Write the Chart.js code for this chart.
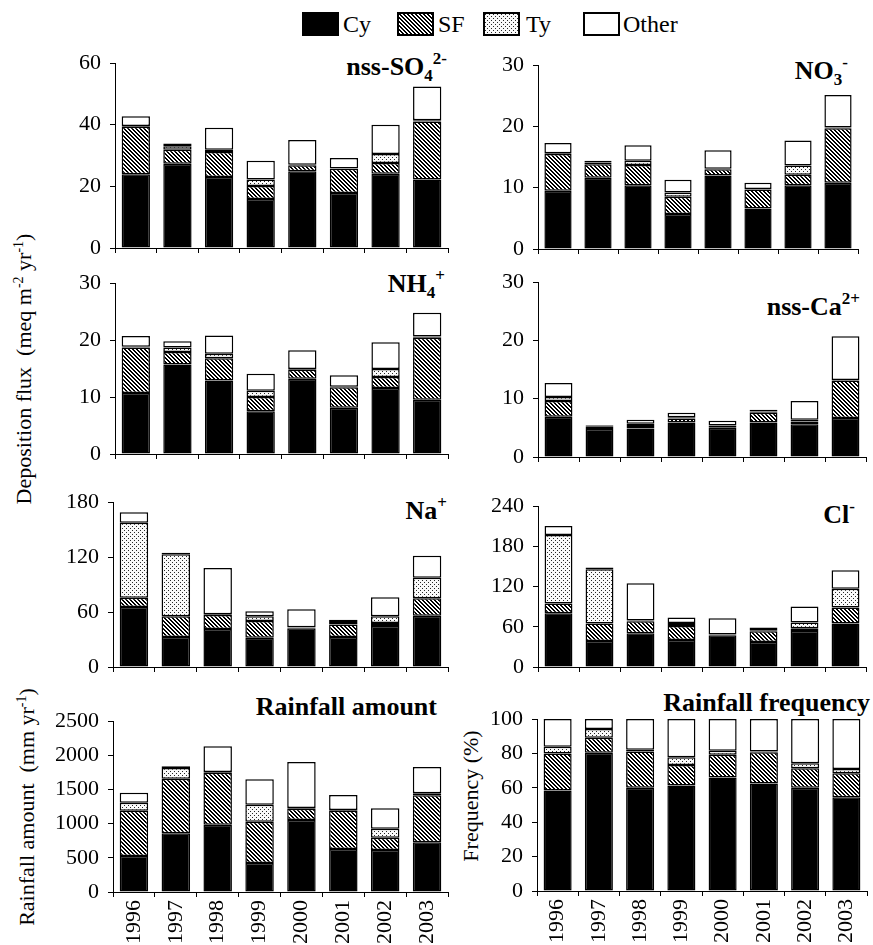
<!DOCTYPE html>
<html>
<head>
<meta charset="utf-8">
<script src="https://cdn.jsdelivr.net/npm/chart.js@4.4.0/dist/chart.umd.min.js"></script>
<style>
body { margin: 0; background: #fff; width: 873px; height: 945px; position: relative; overflow: hidden;
       font-family: 'Liberation Serif', 'Times New Roman', serif; color: #000; }
canvas.panel { position: absolute; }
.ttl { position: absolute; font-weight: bold; font-size: 26px; line-height: 26px; white-space: nowrap; }
.ttl sub, .ttl sup { font-size: 17px; position: relative; vertical-align: baseline; line-height: 0; }
.ttl sub { top: 6px; }
.ttl sup { top: -11px; }
.ytl { position: absolute; font-size: 22px; line-height: 22px; white-space: nowrap;
       transform: translate(-50%, -50%) rotate(-90deg); }
.ytl sup { font-size: 14px; position: relative; vertical-align: baseline; line-height: 0; top: -8px; }
.lg { position: absolute; top: 12px; font-size: 24px; line-height: 24px; white-space: nowrap; }
canvas.sw { position: absolute; top: 12px; }
</style>
</head>
<body>

<div class="lg" style="left:343px">Cy</div>
<div class="lg" style="left:438px">SF</div>
<div class="lg" style="left:526px">Ty</div>
<div class="lg" style="left:623px">Other</div>

<div class="ttl" style="right:426px;top:54px">nss-SO<sub>4</sub><sup>2-</sup></div>
<div class="ttl" style="right:25px;top:58px">NO<sub>3</sub><sup>-</sup></div>
<div class="ttl" style="right:428px;top:271px">NH<sub>4</sub><sup>+</sup></div>
<div class="ttl" style="right:13px;top:294px">nss-Ca<sup>2+</sup></div>
<div class="ttl" style="right:426px;top:498px">Na<sup>+</sup></div>
<div class="ttl" style="right:18px;top:502px">Cl<sup>-</sup></div>
<div class="ttl" style="right:436px;top:694px">Rainfall amount</div>
<div class="ttl" style="right:3px;top:690px">Rainfall frequency</div>

<div class="ytl" style="left:24px;top:369px">Deposition flux&nbsp;&nbsp;(meq m<sup>-2</sup> yr<sup>-1</sup>)</div>
<div class="ytl" style="left:27px;top:807px">Rainfall amount&nbsp;&nbsp;(mm yr<sup>-1</sup>)</div>
<div class="ytl" style="left:471px;top:796px">Frequency (%)</div>

<script>
const FONT = "'Liberation Serif', 'Times New Roman', serif";

// years on the x axis
const years = ['1996', '1997', '1998', '1999', '2000', '2001', '2002', '2003'];
const seriesNames = ['Cy', 'SF', 'Ty', 'Other'];

// nss-SO4 2- (meq m-2 yr-1)
const so4Cy    = [23.9, 27.3, 23.0, 15.9, 24.9, 17.8, 24.1, 22.2];
const so4SF    = [15.4, 4.6, 8.1, 4.2, 1.9, 7.9, 3.5, 18.8];
const so4Ty    = [0.3, 1.1, 0.8, 2.1, 0.2, 0.1, 2.9, 0.4];
const so4Other = [3.1, 0.9, 7.1, 6.1, 8.0, 3.4, 9.5, 11.0];

// NO3-
const no3Cy    = [9.5, 11.6, 10.4, 5.7, 12.0, 6.6, 10.4, 10.8];
const no3SF    = [6.0, 2.2, 3.3, 2.8, 1.0, 3.1, 1.7, 8.9];
const no3Ty    = [0.1, 0.3, 0.7, 0.7, 0.1, 0.1, 1.5, 0.1];
const no3Other = [1.7, 0.3, 2.5, 2.1, 3.0, 1.0, 4.1, 5.3];

// NH4+
const nh4Cy    = [10.7, 15.7, 12.9, 7.5, 13.2, 8.1, 11.6, 9.5];
const nh4SF    = [8.0, 2.2, 3.9, 2.5, 1.6, 3.6, 1.9, 10.9];
const nh4Ty    = [0.1, 0.8, 0.8, 1.1, 0.1, 0.1, 1.4, 0.2];
const nh4Other = [1.9, 1.1, 3.2, 3.0, 3.3, 2.0, 4.7, 4.2];

// nss-Ca2+
const caCy    = [6.9, 4.8, 4.9, 5.9, 5.0, 5.9, 5.6, 6.7];
const caSF    = [2.7, 0.4, 0.4, 0.7, 0.3, 1.7, 0.5, 6.4];
const caTy    = [0.7, 0.2, 0.4, 0.2, 0.1, 0.2, 0.3, 0.1];
const caOther = [2.4, 0.1, 0.7, 0.8, 0.8, 0.3, 3.2, 7.5];

// Na+
const naCy    = [65.5, 32.7, 41.5, 32.0, 42.2, 32.7, 44.7, 56.0];
const naSF    = [10.1, 22.6, 15.2, 18.2, 0.7, 13.8, 3.3, 18.9];
const naTy    = [81.9, 67.6, 0.8, 5.1, 0.4, 2.6, 7.3, 22.6];
const naOther = [11.2, 1.8, 50.5, 5.4, 19.6, 2.5, 20.7, 24.0];

// Cl-
const clCy    = [80.2, 38.8, 50.3, 40.3, 47.3, 37.3, 53.8, 64.7];
const clSF    = [14.4, 25.9, 17.9, 21.0, 0.5, 16.0, 4.0, 23.9];
const clTy    = [102.1, 81.2, 1.0, 4.4, 0.5, 1.5, 8.4, 27.9];
const clOther = [13.5, 2.5, 55.8, 8.0, 24.4, 4.0, 23.9, 27.9];

// Rainfall amount (mm yr-1)
const rainCy    = [526, 858, 984, 424, 1053, 629, 614, 726];
const rainSF    = [663, 799, 761, 604, 165, 560, 180, 687];
const rainTy    = [117, 156, 9, 249, 10, 10, 132, 30];
const rainOther = [146, 24, 376, 370, 673, 219, 297, 385];

// Rainfall frequency (%)
const freqCy    = [58.4, 80.4, 60.1, 61.3, 66.0, 62.5, 60.1, 54.5];
const freqSF    = [21.6, 8.7, 21.0, 11.9, 13.2, 18.2, 11.3, 14.0];
const freqTy    = [3.9, 5.1, 1.0, 4.6, 2.3, 0.4, 2.9, 2.5];
const freqOther = [16.1, 5.8, 17.9, 22.2, 18.5, 18.9, 25.7, 29.0];

//Fill patterns for SF (diagonal hatch) and Ty (dots)
function makeTile(size, shade) {
  var c = document.createElement('canvas');
  c.width = size; c.height = size;
  var g = c.getContext('2d');
  var img = g.createImageData(size, size);
  for (var y = 0; y < size; y++) {
    for (var x = 0; x < size; x++) {
      var i = (y * size + x) * 4;
      var v = shade(x, y);
      img.data[i] = v; img.data[i + 1] = v; img.data[i + 2] = v; img.data[i + 3] = 255;
    }
  }
  g.putImageData(img, 0, 0);
  return g.createPattern(c, 'repeat');
}
const sfFill = makeTile(4, (x, y) => ((((x - y) % 4) + 4) % 4 < 2) ? 0 : 255);
const tyFill = makeTile(4, (x, y) => ((x == 0 && y == 0) || (x == 2 && y == 2)) ? 40 : 250);
const fills = ['#000', sfFill, tyFill, '#fff'];

//Legend swatches
[[302, 0], [397, 1], [483, 2], [583, 3]].forEach(function (s) {
  var c = document.createElement('canvas');
  c.className = 'sw';
  c.width = 37; c.height = 24;
  c.style.left = s[0] + 'px';
  var g = c.getContext('2d');
  g.fillStyle = '#000';
  g.fillRect(0, 0, 37, 24);
  g.fillStyle = fills[s[1]];
  g.fillRect(2, 2, 33, 20);
  document.body.appendChild(c);
});

//Panels: plot area [left, right, top, bottom] in page pixels
const panels = [
  { area: [115, 448, 63, 248], max: 60, step: 20, series: [so4Cy, so4SF, so4Ty, so4Other], xLabels: false },
  { area: [538, 858, 65, 249], max: 30, step: 10, series: [no3Cy, no3SF, no3Ty, no3Other], xLabels: false },
  { area: [115, 448, 283, 454], max: 30, step: 10, series: [nh4Cy, nh4SF, nh4Ty, nh4Other], xLabels: false },
  { area: [538, 866, 282, 457], max: 30, step: 10, series: [caCy, caSF, caTy, caOther], xLabels: false },
  { area: [113, 448, 502, 667], max: 180, step: 60, series: [naCy, naSF, naTy, naOther], xLabels: false },
  { area: [538, 866, 506, 667], max: 240, step: 60, series: [clCy, clSF, clTy, clOther], xLabels: false },
  { area: [113, 448, 721, 892], max: 2500, step: 500, series: [rainCy, rainSF, rainTy, rainOther], xLabels: true },
  { area: [537, 867, 719, 891], max: 100, step: 20, series: [freqCy, freqSF, freqTy, freqOther], xLabels: true }
];

function drawPanel(p) {
  var yw = 85, padTop = 16, padRight = 8;
  var xh = p.xLabels ? 52 : 16;
  var cv = document.createElement('canvas');
  cv.className = 'panel';
  var L = p.area[0] - yw, T = p.area[2] - padTop;
  cv.width = p.area[1] + padRight - L;
  cv.height = p.area[3] + xh - T;
  cv.style.left = L + 'px';
  cv.style.top = T + 'px';
  document.body.appendChild(cv);

  new Chart(cv, {
    type: 'bar',
    data: {
      labels: years,
      datasets: p.series.map(function (d, i) {
        return {
          label: seriesNames[i],
          data: d,
          backgroundColor: fills[i],
          borderColor: '#000',
          borderWidth: 1.5,
          borderSkipped: false,
          barPercentage: 0.68,
          categoryPercentage: 1
        };
      })
    },
    options: {
      responsive: false,
      animation: false,
      devicePixelRatio: 1,
      layout: { padding: { top: padTop, right: padRight, left: 0, bottom: 0 } },
      plugins: { legend: { display: false }, tooltip: { enabled: false } },
      scales: {
        x: {
          stacked: true,
          grid: { offset: true, drawOnChartArea: false, tickLength: 5, color: '#000' },
          border: { color: '#000' },
          ticks: { display: p.xLabels, minRotation: 90, maxRotation: 90, autoSkip: false,
                   color: '#000', font: { family: FONT, size: 22 }, padding: 3 },
          afterFit: function (s) { s.height = xh; s.paddingLeft = 0; s.paddingRight = 0; }
        },
        y: {
          stacked: true, min: 0, max: p.max,
          grid: { drawOnChartArea: false, tickLength: 5, color: '#000' },
          border: { color: '#000' },
          ticks: { stepSize: p.step, color: '#000', font: { family: FONT, size: 22 }, padding: 9,
                   callback: function (v) { return String(v); } },
          // keep the plot area where it is in the picture
          afterFit: function (s) { s.width = yw; s.paddingTop = 0; s.paddingBottom = 0; }
        }
      }
    }
  });
}

panels.forEach(drawPanel);
</script>
</body>
</html>
